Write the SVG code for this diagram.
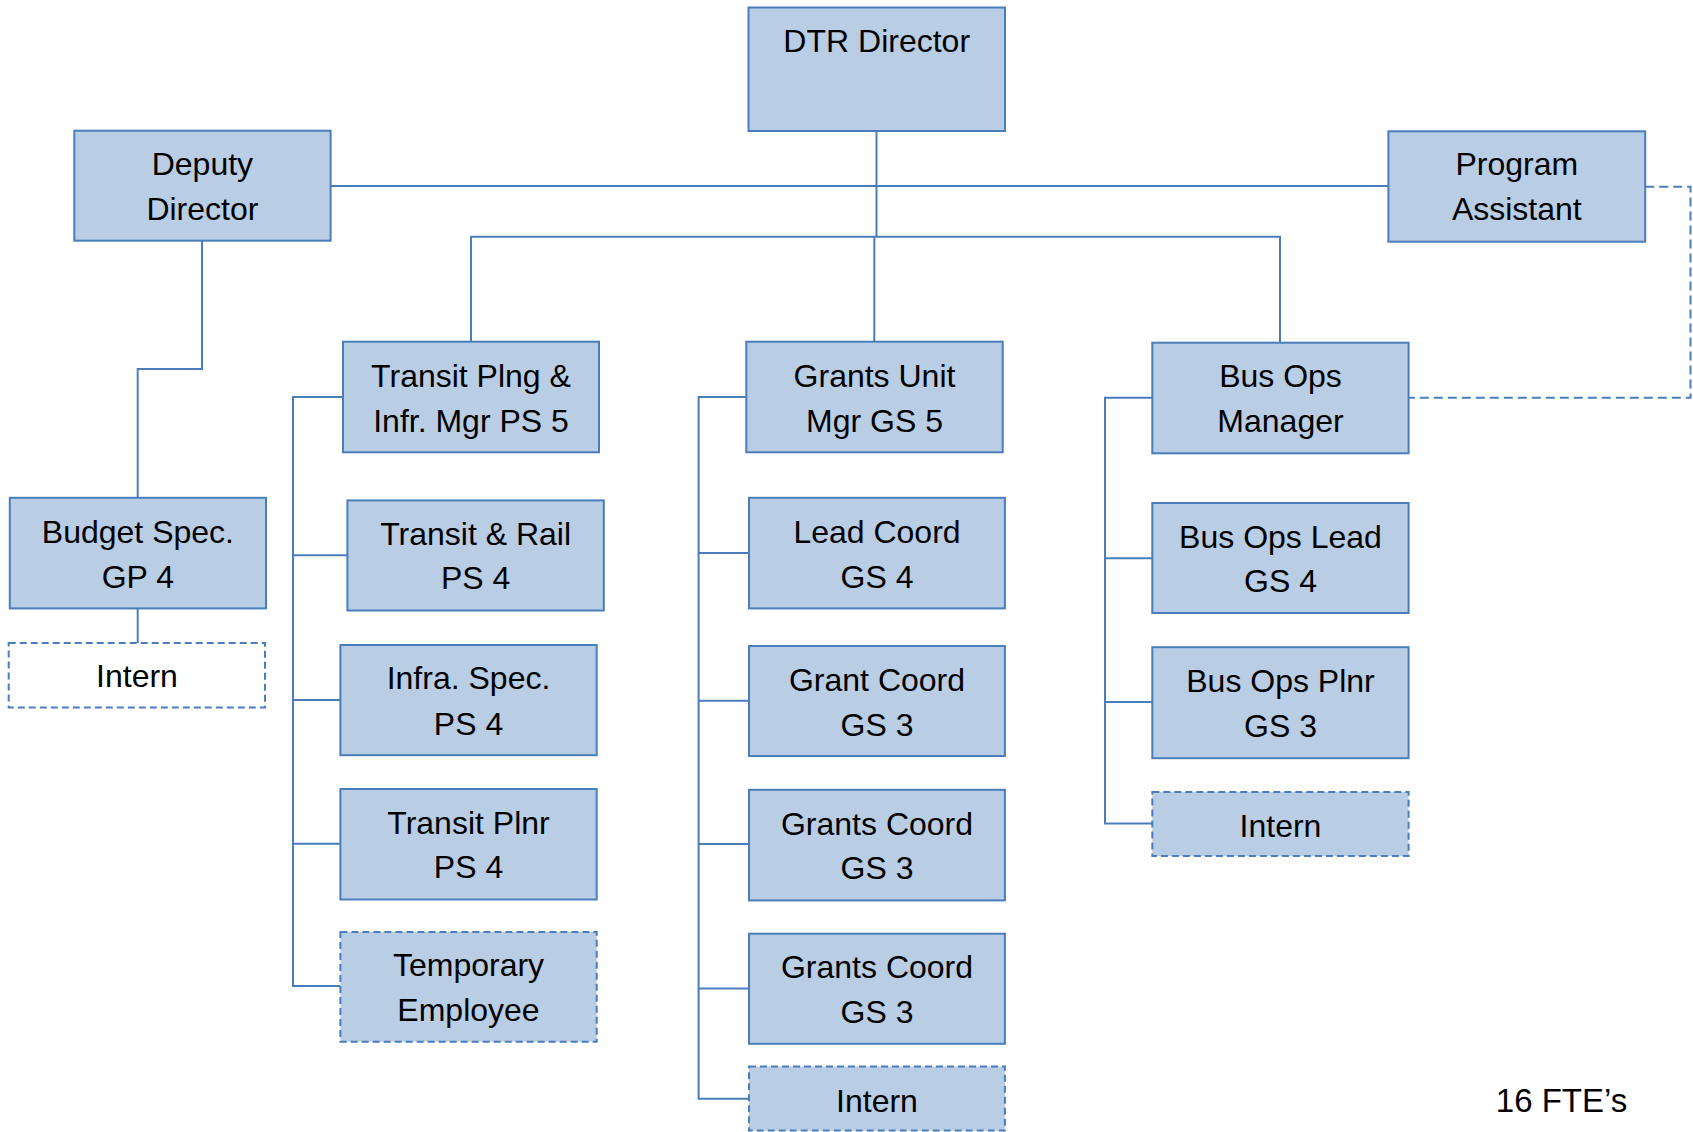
<svg xmlns="http://www.w3.org/2000/svg" width="1693" height="1132" viewBox="0 0 1693 1132">
<style>
.box{fill:#B9CDE5;stroke:#4A7EBB;stroke-width:2}
.dbox{fill:#B9CDE5;stroke:#4A7EBB;stroke-width:2;stroke-dasharray:7 4}
.wbox{fill:#FFFFFF;stroke:#4A7EBB;stroke-width:2;stroke-dasharray:7 4}
.t{font-family:"Liberation Sans",Arial,sans-serif;font-size:32px;fill:#000;text-anchor:middle}
.c{fill:none;stroke:#4A7EBB;stroke-width:2}
.cd{fill:none;stroke:#4A7EBB;stroke-width:2;stroke-dasharray:9 5}
</style>
<rect width="1693" height="1132" fill="#FFFFFF"/>
<g id="connectors">
<path class="c" d="M330.6,186 H1388.4"/>
<path class="c" d="M876.5,131 V236.7"/>
<path class="c" d="M471,341.7 V236.7 H1280 V342.7"/>
<path class="c" d="M874.3,236.7 V341.7"/>
<path class="c" d="M202,240.7 V369 H137.7 V497.8"/>
<path class="c" d="M137.7,608.4 V643"/>
<path class="c" d="M343,397 H293 V986 H340.4"/>
<path class="c" d="M293,555.2 H347.4 M293,700 H340.4 M293,843.8 H340.4"/>
<path class="c" d="M746.3,397 H698.6 V1098.7 H749"/>
<path class="c" d="M698.6,553 H749 M698.6,700.8 H749 M698.6,844 H749 M698.6,988.6 H749"/>
<path class="c" d="M1152.3,397.7 H1105 V823.6 H1152.3"/>
<path class="c" d="M1105,558.2 H1152.3 M1105,702 H1152.3"/>
<path class="cd" d="M1645.2,186.7 H1690.5 V397.7 H1408.6"/>
</g>
<g id="dtr-director"><rect class="box" x="748.5" y="7.5" width="256.5" height="123.5"/><text class="t" x="876.7" y="52">DTR Director</text></g>
<g id="deputy-director"><rect class="box" x="74.3" y="130.7" width="256.3" height="110"/><text class="t" x="202.4" y="175">Deputy</text><text class="t" x="202.4" y="220">Director</text></g>
<g id="program-assistant"><rect class="box" x="1388.4" y="131.3" width="256.8" height="110.4"/><text class="t" x="1516.8" y="175">Program</text><text class="t" x="1516.8" y="220">Assistant</text></g>
<g id="transit-plng-mgr"><rect class="box" x="343" y="341.7" width="256" height="110.6"/><text class="t" x="471" y="386.7">Transit Plng &amp;</text><text class="t" x="471" y="431.7">Infr. Mgr PS 5</text></g>
<g id="grants-unit-mgr"><rect class="box" x="746.3" y="341.7" width="256.4" height="110.6"/><text class="t" x="874.5" y="386.7">Grants Unit</text><text class="t" x="874.5" y="431.7">Mgr GS 5</text></g>
<g id="bus-ops-manager"><rect class="box" x="1152.3" y="342.7" width="256.3" height="110.6"/><text class="t" x="1280.5" y="386.7">Bus Ops</text><text class="t" x="1280.5" y="431.7">Manager</text></g>
<g id="budget-spec"><rect class="box" x="9.8" y="497.8" width="256.2" height="110.6"/><text class="t" x="137.9" y="542.6">Budget Spec.</text><text class="t" x="137.9" y="588">GP 4</text></g>
<g id="budget-intern"><rect class="wbox" x="8.7" y="643" width="256.3" height="64.5"/><text class="t" x="137" y="687">Intern</text></g>
<g id="transit-rail"><rect class="box" x="347.4" y="500.4" width="256.4" height="110.1"/><text class="t" x="475.6" y="545">Transit &amp; Rail</text><text class="t" x="475.6" y="589.4">PS 4</text></g>
<g id="infra-spec"><rect class="box" x="340.4" y="645" width="256.3" height="110.2"/><text class="t" x="468.5" y="689.4">Infra. Spec.</text><text class="t" x="468.5" y="734.5">PS 4</text></g>
<g id="transit-plnr"><rect class="box" x="340.4" y="789" width="256.3" height="110.5"/><text class="t" x="468.5" y="833.7">Transit Plnr</text><text class="t" x="468.5" y="878.4">PS 4</text></g>
<g id="temporary-employee"><rect class="dbox" x="340.4" y="932" width="256.3" height="109.7"/><text class="t" x="468.5" y="976">Temporary</text><text class="t" x="468.5" y="1020.6">Employee</text></g>
<g id="lead-coord"><rect class="box" x="749" y="497.8" width="255.9" height="110.6"/><text class="t" x="877" y="542.6">Lead Coord</text><text class="t" x="877" y="588">GS 4</text></g>
<g id="grant-coord"><rect class="box" x="749" y="646" width="255.9" height="110"/><text class="t" x="877" y="690.5">Grant Coord</text><text class="t" x="877" y="735.5">GS 3</text></g>
<g id="grants-coord-1"><rect class="box" x="749" y="789.8" width="255.9" height="110.6"/><text class="t" x="877" y="834.5">Grants Coord</text><text class="t" x="877" y="879">GS 3</text></g>
<g id="grants-coord-2"><rect class="box" x="749" y="933.7" width="255.9" height="110.1"/><text class="t" x="877" y="978">Grants Coord</text><text class="t" x="877" y="1022.5">GS 3</text></g>
<g id="grants-intern"><rect class="dbox" x="749" y="1066.6" width="255.9" height="63.9"/><text class="t" x="877" y="1112">Intern</text></g>
<g id="bus-ops-lead"><rect class="box" x="1152.3" y="503" width="256.3" height="110"/><text class="t" x="1280.5" y="548">Bus Ops Lead</text><text class="t" x="1280.5" y="592.4">GS 4</text></g>
<g id="bus-ops-plnr"><rect class="box" x="1152.3" y="647.2" width="256.3" height="111"/><text class="t" x="1280.5" y="692.4">Bus Ops Plnr</text><text class="t" x="1280.5" y="737">GS 3</text></g>
<g id="bus-intern"><rect class="dbox" x="1152.3" y="792" width="256.3" height="64"/><text class="t" x="1280.5" y="837">Intern</text></g>
<text class="t" x="1561.5" y="1112" style="font-size:33px">16 FTE’s</text>
</svg>
